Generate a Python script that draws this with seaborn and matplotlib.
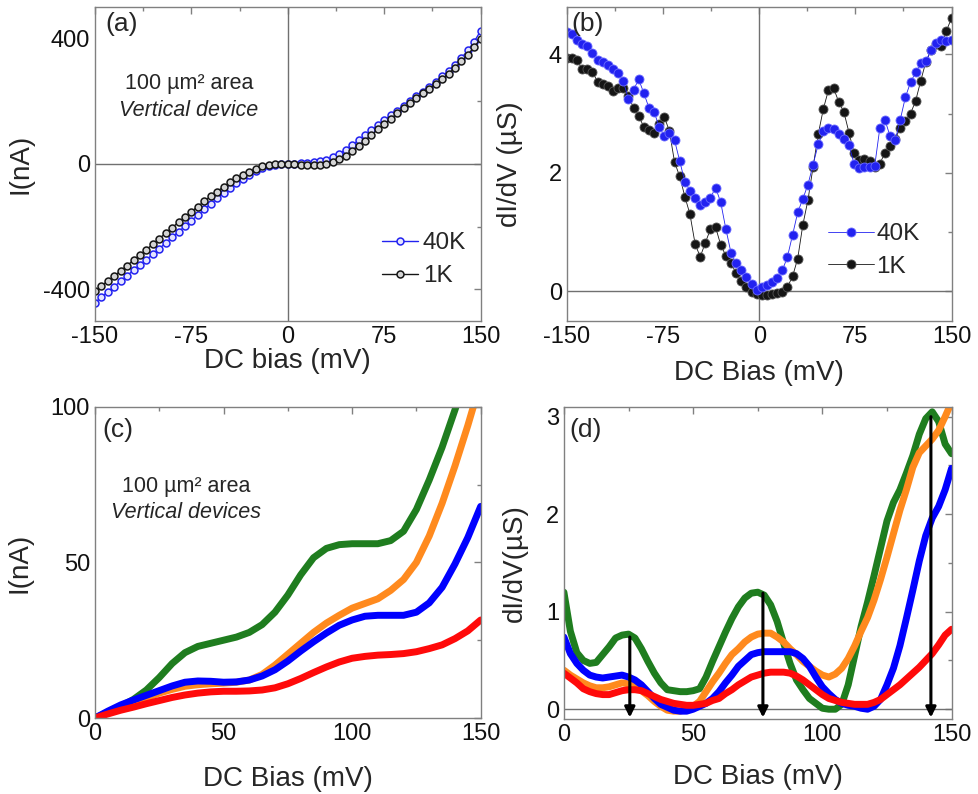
import numpy as np
import matplotlib
matplotlib.use('Agg')
import matplotlib.pyplot as plt
from matplotlib.ticker import MultipleLocator
import seaborn as sns

# ------------------------------------------------------------
# DATA
# ------------------------------------------------------------

# (a) I-V, 5 mV steps from -150 to 150
bias_a = np.arange(-150, 151, 5)
iv_40k = [-442, -425, -408, -391, -374, -356, -339, -321, -305, -288, -270,
          -252, -234, -216, -199, -181, -163, -145, -127, -110, -93,
          -77, -62, -48, -35, -22, -12, -6, -3, -1, 0,
          1, 2, 3, 5, 8, 14, 22, 33, 46, 60,
          75, 92, 108, 124, 140, 155, 170, 186, 201, 216,
          231, 246, 262, 279, 297, 317, 338, 362, 390, 425]
iv_1k = [-405, -389, -373, -357, -341, -324, -307, -290, -273, -256, -238,
         -221, -203, -186, -169, -152, -136, -119, -103, -88, -73,
         -59, -46, -35, -25, -16, -8, -3, -1, 0, 0,
         -1, -2, -3, -4, -3, 0, 6, 15, 26, 40,
         56, 74, 92, 110, 127, 144, 161, 178, 194, 210,
         225, 240, 255, 271, 288, 307, 327, 349, 373, 400]

# (b) dI/dV, 4 mV steps from -150 to 150
bias_b = np.arange(-150, 151, 4)
didv_40k = [4.38, 4.35, 4.25, 4.17, 4.15, 4.02, 3.9, 3.87, 3.83, 3.75,
            3.69, 3.55, 3.25, 3.4, 3.58, 3.35, 3.1, 3.03, 2.78, 2.62,
            2.68, 2.55, 2.2, 1.85, 1.7, 1.57, 1.46, 1.5, 1.58, 1.75,
            1.5, 1.05, 0.65, 0.47, 0.36, 0.24, 0.12, 0.02,
            0.07, 0.1, 0.15, 0.22, 0.35, 0.58, 0.95, 1.33, 1.56, 1.8,
            2.14, 2.48, 2.7, 2.76, 2.74, 2.66, 2.58, 2.47, 2.15, 2.08,
            2.1, 2.1, 2.11, 2.75, 2.9, 2.62, 2.55, 2.9, 3.28, 3.53,
            3.7, 3.85, 3.89, 4.07, 4.2, 4.24, 4.22, 4.25]
didv_1k = [3.94, 3.94, 3.9, 3.75, 3.75, 3.7, 3.54, 3.5, 3.47, 3.38,
           3.44, 3.44, 3.3, 3.1, 2.96, 2.78, 2.72, 2.68, 2.82, 2.95,
           2.7, 2.18, 1.94, 1.6, 1.3, 0.8, 0.58, 0.82, 1.05, 1.08,
           0.78, 0.6, 0.48, 0.3, 0.17, 0.07, -0.01, -0.04,
           -0.06, -0.07, -0.05, -0.03, -0.01, 0.07, 0.25, 0.55, 1.12, 1.54,
           2.1, 2.65, 3.08, 3.4, 3.43, 3.2, 3.03, 2.68, 2.33, 2.22,
           2.24, 2.2, 2.1, 2.15, 2.34, 2.45, 2.58, 2.75, 2.88, 3.0,
           3.22, 3.56, 3.88, 4.07, 4.17, 4.14, 4.4, 4.62]

# (c) I-V of four devices, 5 mV steps from 0 to 150
bias_c = np.arange(0, 151, 5)
iv_green = [0, 1.8, 3.7, 6, 9, 13, 17.5, 21, 23, 24, 25, 26, 27.5, 30, 34,
            39.5, 46, 51.5, 54.5, 55.7, 56, 56, 56, 57, 60, 67, 76.5, 87,
            99, 112, 125]
iv_orange = [0, 1.8, 3.5, 5, 6.5, 8, 9.2, 10.2, 10.7, 11, 11.2, 11.5, 12.2,
             14, 17, 20.5, 24, 27.5, 30.5, 33, 35.3, 36.8, 38.3, 41, 44.5,
             50, 58.5, 69, 81, 94, 108]
iv_blue = [0, 2.2, 4.2, 5.8, 7.3, 8.8, 10.3, 11.5, 11.9, 11.8, 11.5, 11.6,
           12.2, 13.5, 15.5, 18.3, 21.5, 24.5, 27.3, 29.8, 31.5, 32.7, 33,
           33, 33, 34, 37, 42, 49.5, 58, 68]
iv_red = [0, 1.3, 2.5, 3.5, 4.6, 5.6, 6.6, 7.4, 8, 8.4, 8.6, 8.6, 8.7, 9,
          9.7, 11, 12.7, 14.6, 16.4, 18, 19.2, 19.8, 20.2, 20.4, 20.7,
          21.3, 22.3, 23.5, 25.5, 28, 31.5]

# (d) dI/dV of four devices, 2.5 mV steps from 0 to 150
bias_d = np.arange(0, 150.1, 2.5)
didv_green = [1.2, 0.8, 0.58, 0.5, 0.47, 0.48, 0.56, 0.64, 0.73, 0.76,
              0.77, 0.73, 0.62, 0.49, 0.37, 0.27, 0.2, 0.19, 0.18, 0.18,
              0.19, 0.21, 0.33, 0.49, 0.64, 0.79, 0.93, 1.05, 1.14, 1.19,
              1.2, 1.17, 1.07, 0.9, 0.68, 0.47, 0.3, 0.2, 0.11, 0.06,
              0.01, 0.0, 0.0, 0.05, 0.25, 0.55, 0.85, 1.1, 1.37, 1.65,
              1.93, 2.12, 2.25, 2.42, 2.6, 2.82, 2.98, 3.05, 2.95, 2.72, 2.62]
didv_orange = [0.4, 0.35, 0.31, 0.27, 0.24, 0.22, 0.22, 0.23, 0.25, 0.27,
               0.26, 0.23, 0.19, 0.14, 0.08, 0.03, -0.01, -0.02, -0.02, 0.0,
               0.03, 0.08, 0.18, 0.28, 0.37, 0.47, 0.56, 0.62, 0.69, 0.74,
               0.77, 0.78, 0.78, 0.74, 0.69, 0.62, 0.56, 0.49, 0.44, 0.39,
               0.35, 0.33, 0.36, 0.42, 0.52, 0.65, 0.8, 0.94, 1.12, 1.33,
               1.56, 1.8, 2.04, 2.25, 2.48, 2.63, 2.7, 2.77, 2.86, 3.0, 3.15]
didv_blue = [0.74, 0.57, 0.47, 0.4, 0.35, 0.33, 0.32, 0.33, 0.34, 0.35,
             0.33, 0.3, 0.25, 0.18, 0.11, 0.05, 0.02, -0.01, -0.02, -0.02,
             0.0, 0.03, 0.06, 0.11, 0.18, 0.27, 0.35, 0.44, 0.5, 0.56,
             0.58, 0.59, 0.59, 0.59, 0.59, 0.59, 0.57, 0.52, 0.44, 0.33,
             0.23, 0.16, 0.1, 0.06, 0.04, 0.03, 0.01, 0.0, 0.03, 0.1,
             0.25, 0.42, 0.65, 0.93, 1.22, 1.52, 1.78, 1.96, 2.08, 2.25, 2.47]
didv_red = [0.37, 0.32, 0.27, 0.21, 0.18, 0.16, 0.15, 0.15, 0.17, 0.19,
            0.2, 0.2, 0.19, 0.16, 0.13, 0.1, 0.08, 0.06, 0.05, 0.04,
            0.04, 0.05, 0.06, 0.09, 0.11, 0.16, 0.2, 0.25, 0.29, 0.33,
            0.35, 0.37, 0.38, 0.38, 0.38, 0.37, 0.34, 0.3, 0.25, 0.2,
            0.15, 0.11, 0.09, 0.07, 0.06, 0.05, 0.05, 0.05, 0.07, 0.1,
            0.15, 0.2, 0.25, 0.31, 0.37, 0.43, 0.5, 0.57, 0.66, 0.76, 0.82]

# arrows in (d): bias position and starting height
arrow_x = [25.5, 77, 142]
arrow_top = [0.74, 1.19, 3.0]

# ------------------------------------------------------------
# STYLE
# ------------------------------------------------------------
sns.set_style('white')
plt.rcParams['font.family'] = ['Liberation Sans', 'DejaVu Sans']
plt.rcParams.update({
    'axes.unicode_minus': False,
    'axes.edgecolor': '#808080',
    'axes.linewidth': 1.0,
    'xtick.color': '#808080',
    'ytick.color': '#808080',
    'xtick.labelcolor': '#111111',
    'ytick.labelcolor': '#111111',
})

BLUE_PT = '#2222f0'
BLACK_PT = '#151515'
C_GREEN = '#1f7d1f'
C_ORANGE = '#ff8a1e'
C_BLUE = '#0000ff'
C_RED = '#ff0a0a'
TICK_FS = 17
LABEL_FS = 20
NOTE_FS = 15.5
LEG_FS = 17.5
TAG_FS = 19


def style_axes(ax, xmaj, xmin, ymaj, ymin):
    ax.xaxis.set_major_locator(MultipleLocator(xmaj))
    ax.xaxis.set_minor_locator(MultipleLocator(xmin))
    ax.yaxis.set_major_locator(MultipleLocator(ymaj))
    ax.yaxis.set_minor_locator(MultipleLocator(ymin))
    ax.tick_params(which='both', direction='in', top=True, right=True,
                   labelsize=TICK_FS)
    ax.tick_params(which='major', length=5, width=1)
    ax.tick_params(which='minor', length=3, width=1)
    for s in ax.spines.values():
        s.set_visible(True)


fig = plt.figure(figsize=(9.79, 7.94), dpi=100)

ax_a = fig.add_axes([0.097, 0.596, 0.394, 0.395])
ax_b = fig.add_axes([0.579, 0.596, 0.393, 0.395])
ax_c = fig.add_axes([0.097, 0.0957, 0.394, 0.392])
ax_d = fig.add_axes([0.576, 0.0945, 0.396, 0.393])

# ---------------- (a) ----------------
ax_a.axhline(0, color='#707070', lw=1, zorder=1)
ax_a.axvline(0, color='#707070', lw=1, zorder=1)
sns.lineplot(x=bias_a, y=iv_40k, ax=ax_a, color=BLUE_PT, lw=1.0,
             marker='o', markersize=5, markerfacecolor='#e4e4ff',
             markeredgecolor=BLUE_PT, markeredgewidth=1.1, label='40K',
             sort=False, errorbar=None)
sns.lineplot(x=bias_a, y=iv_1k, ax=ax_a, color=BLACK_PT, lw=1.0,
             marker='o', markersize=5, markerfacecolor='#d4d4d4',
             markeredgecolor=BLACK_PT, markeredgewidth=1.1, label='1K',
             sort=False, errorbar=None)
ax_a.set_xlim(-150, 150)
ax_a.set_ylim(-500, 500)
style_axes(ax_a, 75, 37.5, 400, 200)
ax_a.set_xlabel('DC bias (mV)', fontsize=LABEL_FS)
ax_a.set_ylabel('I(nA)', fontsize=LABEL_FS)
ax_a.xaxis.set_label_coords(0.5, -0.088)
ax_a.yaxis.set_label_coords(-0.16, 0.5)
ax_a.text(0.028, 0.945, '(a)', transform=ax_a.transAxes, fontsize=TAG_FS,
          va='center', ha='left')
ax_a.text(0.244, 0.758, '100 µm² area', transform=ax_a.transAxes,
          fontsize=NOTE_FS, ha='center', va='center')
ax_a.text(0.244, 0.672, 'Vertical device', transform=ax_a.transAxes,
          fontsize=NOTE_FS, ha='center', va='center', style='italic')
ax_a.legend(loc='lower right', bbox_to_anchor=(1.0, 0.06), frameon=False,
            fontsize=LEG_FS, handlelength=1.5, handletextpad=0.2,
            labelspacing=0.45, borderaxespad=0.2)

# ---------------- (b) ----------------
ax_b.axhline(0, color='#707070', lw=1, zorder=1)
ax_b.axvline(0, color='#707070', lw=1, zorder=1)
sns.lineplot(x=bias_b, y=didv_1k, ax=ax_b, color=BLACK_PT, lw=0.6,
             marker='o', markersize=6.5, markerfacecolor=BLACK_PT,
             markeredgecolor='#555555', markeredgewidth=0.6, label='1K',
             sort=False, errorbar=None)
sns.lineplot(x=bias_b, y=didv_40k, ax=ax_b, color=BLUE_PT, lw=0.6,
             marker='o', markersize=6.5, markerfacecolor=BLUE_PT,
             markeredgecolor='#6a6aff', markeredgewidth=0.6, label='40K',
             sort=False, errorbar=None)
ax_b.set_xlim(-150, 150)
ax_b.set_ylim(-0.5, 4.8)
style_axes(ax_b, 75, 37.5, 2, 1)
ax_b.set_xlabel('DC Bias (mV)', fontsize=LABEL_FS)
ax_b.set_ylabel('dI/dV (µS)', fontsize=LABEL_FS)
ax_b.xaxis.set_label_coords(0.5, -0.125)
ax_b.yaxis.set_label_coords(-0.114, 0.5)
ax_b.text(0.012, 0.945, '(b)', transform=ax_b.transAxes, fontsize=TAG_FS,
          va='center', ha='left')
hb, lb = ax_b.get_legend_handles_labels()
ax_b.legend(hb[::-1], lb[::-1], loc='lower right',
            bbox_to_anchor=(0.955, 0.09), frameon=False, fontsize=LEG_FS,
            handlelength=1.9, handletextpad=0.1, labelspacing=0.45,
            borderaxespad=0.2)

# ---------------- (c) ----------------
for vals, col in [(iv_green, C_GREEN), (iv_orange, C_ORANGE),
                  (iv_blue, C_BLUE), (iv_red, C_RED)]:
    sns.lineplot(x=bias_c, y=vals, ax=ax_c, color=col, lw=5,
                 sort=False, errorbar=None, solid_capstyle='round')
ax_c.set_xlim(0, 150)
ax_c.set_ylim(0, 100)
style_axes(ax_c, 50, 25, 50, 25)
ax_c.set_xlabel('DC Bias (mV)', fontsize=LABEL_FS)
ax_c.set_ylabel('I(nA)', fontsize=LABEL_FS)
ax_c.xaxis.set_label_coords(0.5, -0.155)
ax_c.yaxis.set_label_coords(-0.163, 0.5)
ax_c.text(0.02, 0.926, '(c)', transform=ax_c.transAxes, fontsize=TAG_FS,
          va='center', ha='left')
ax_c.text(0.236, 0.743, '100 µm² area', transform=ax_c.transAxes,
          fontsize=NOTE_FS, ha='center', va='center')
ax_c.text(0.236, 0.66, 'Vertical devices', transform=ax_c.transAxes,
          fontsize=NOTE_FS, ha='center', va='center', style='italic')

# ---------------- (d) ----------------
ax_d.axhline(0, color='#707070', lw=1, zorder=1)
for vals, col in [(didv_green, C_GREEN), (didv_orange, C_ORANGE),
                  (didv_blue, C_BLUE), (didv_red, C_RED)]:
    sns.lineplot(x=bias_d, y=vals, ax=ax_d, color=col, lw=5,
                 sort=False, errorbar=None, solid_capstyle='round')
for xa, ya in zip(arrow_x, arrow_top):
    ax_d.annotate('', xy=(xa, -0.085), xytext=(xa, ya),
                  arrowprops=dict(arrowstyle='-|>', color='black', lw=2.2,
                                  mutation_scale=15, shrinkA=0, shrinkB=0),
                  zorder=5)
ax_d.set_xlim(0, 150)
ax_d.set_ylim(-0.1, 3.1)
style_axes(ax_d, 50, 25, 1, 0.5)
ax_d.set_xlabel('DC Bias (mV)', fontsize=LABEL_FS)
ax_d.set_ylabel('dI/dV(µS)', fontsize=LABEL_FS)
ax_d.xaxis.set_label_coords(0.5, -0.145)
ax_d.yaxis.set_label_coords(-0.093, 0.5)
ax_d.text(0.015, 0.926, '(d)', transform=ax_d.transAxes, fontsize=TAG_FS,
          va='center', ha='left')

fig.savefig('out.png', dpi=100)
